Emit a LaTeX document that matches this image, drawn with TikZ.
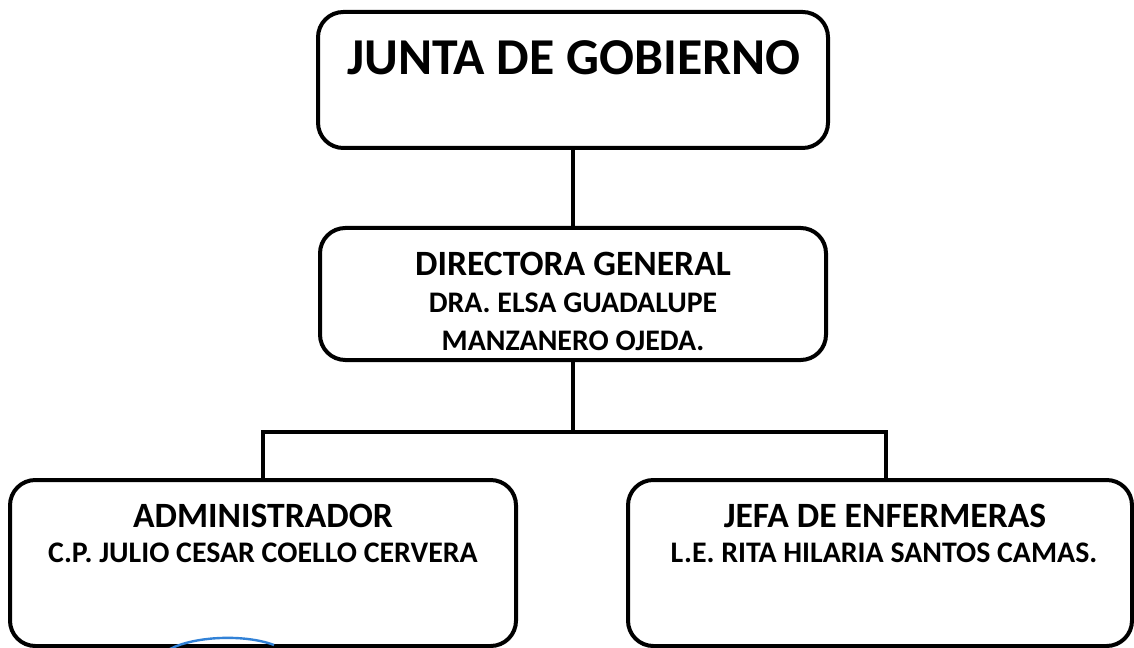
\documentclass[tikz,border=0pt]{standalone}
\usepackage{fontspec}
\setmainfont{Carlito}
\usepackage{tikz}

\tikzset{
  cargo/.style={draw, line width=3pt, rounded corners=19pt, inner sep=0pt},
  titulo/.style={inner sep=0pt, font=\bfseries\fontsize{38.8}{44}\selectfont},
  puesto/.style={inner sep=0pt, font=\bfseries\fontsize{26.7}{32}\selectfont},
  nombre/.style={inner sep=0pt, font=\bfseries\fontsize{22.4}{27}\selectfont},
  linea/.style={line width=3pt},
}

\begin{document}
\begin{tikzpicture}[x=0.75pt,y=0.75pt,yscale=-1,xscale=1]
        \useasboundingbox (0,0) rectangle (1134,648);

        %Rounded Rect [id:junta]
        \node [cargo, minimum width=382.5pt, minimum height=102pt] (junta) at (573,80) {};
        %Rounded Rect [id:directora]
        \node [cargo, minimum width=379.5pt, minimum height=99pt] (directora) at (573,294) {};
        %Rounded Rect [id:admin]
        \node [cargo, minimum width=379.5pt, minimum height=124.5pt] (admin) at (263,563) {};
        %Rounded Rect [id:jefa]
        \node [cargo, minimum width=378pt, minimum height=124.5pt] (jefa) at (880,563) {};

        %Straight Lines
        \coordinate (rama) at (573,432);
        \coordinate (bajada) at ([xshift=4.5pt]jefa.north);
        \draw [linea] (junta.south) -- (directora.north);
        \draw [linea] (directora.south) -- (rama);
        \draw [linea, line join=miter] (admin.north) |- (rama) -| (bajada);

        %Curve Lines
        \draw [color={rgb, 255:red, 50; green, 130; blue, 215 }, line width=1.8pt] (170,649) .. controls (195,636) and (245,634) .. (274,645);

        % Text Node
        \node [titulo] (t-junta) at (574,58) {JUNTA DE GOBIERNO};
        % Text Node
        \node [puesto] (t-directora) at (573,264) {DIRECTORA GENERAL};
        % Text Node
        \node [nombre] (n-directora1) at (573,303) {DRA. ELSA GUADALUPE};
        % Text Node
        \node [nombre] (n-directora2) at (573,341) {MANZANERO OJEDA.};
        % Text Node
        \node [puesto] (t-admin) at (263,516) {ADMINISTRADOR};
        % Text Node
        \node [nombre] (n-admin) at (263,553) {C.P. JULIO CESAR COELLO CERVERA};
        % Text Node
        \node [puesto] (t-jefa) at (885,516) {JEFA DE ENFERMERAS};
        % Text Node
        \node [nombre] (n-jefa) at (884,553) {L.E. RITA HILARIA SANTOS CAMAS.};

\end{tikzpicture}
\end{document}
